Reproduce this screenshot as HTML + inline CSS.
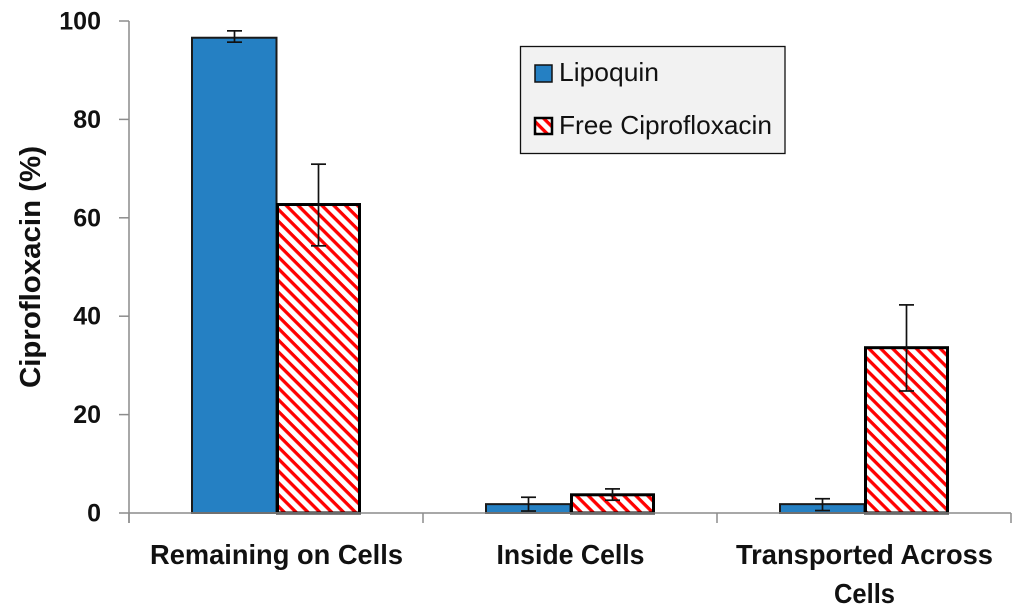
<!DOCTYPE html>
<html>
<head>
<meta charset="utf-8">
<title>Ciprofloxacin distribution chart</title>
<style>
html,body{margin:0;padding:0;background:#fff;width:1024px;height:615px;overflow:hidden}
svg{display:block}
text{font-family:"Liberation Sans",sans-serif;fill:#111}
</style>
</head>
<body>
<svg id="chart" xmlns="http://www.w3.org/2000/svg" width="1024" height="615" viewBox="0 0 1024 615">
  <defs>
    <pattern id="hatch" patternUnits="userSpaceOnUse" width="8.4" height="8.4" patternTransform="rotate(45)">
      <rect width="8.4" height="8.4" fill="#fff"/>
      <rect width="8.4" height="3.3" fill="#ff0000"/>
    </pattern>
  </defs>
  <text transform="translate(40,388) rotate(-90)" font-size="29" font-weight="bold" textLength="242" lengthAdjust="spacingAndGlyphs">Ciprofloxacin (%)</text>
  <g id="plot"></g>
  <g>
    <rect x="520.5" y="46.5" width="264.5" height="107" fill="#f2f2f2" stroke="#111" stroke-width="1.3"/>
    <rect x="535" y="65" width="17" height="17" fill="#2580c3" stroke="#111" stroke-width="1.5"/>
    <text x="559" y="81" font-size="26" textLength="100" lengthAdjust="spacingAndGlyphs">Lipoquin</text>
    <rect x="535" y="118" width="17" height="16" fill="url(#hatch)" stroke="#000" stroke-width="2.5"/>
    <text x="559" y="134" font-size="26" textLength="213" lengthAdjust="spacingAndGlyphs">Free Ciprofloxacin</text>
  </g>
</svg>
<script>
const categoryLines = [["Remaining on Cells"], ["Inside Cells"], ["Transported Across", "Cells"]];
const yTicks = [0, 20, 40, 60, 80, 100];
const lipoquinValues = [96.6, 1.8, 1.8];
const lipoquinErrLow = [95.7, 0.4, 0.5];
const lipoquinErrHigh = [98.0, 3.2, 2.9];
const freeCiproValues = [62.7, 3.7, 33.6];
const freeCiproErrLow = [54.3, 2.6, 24.8];
const freeCiproErrHigh = [70.9, 4.9, 42.3];

const NS = "http://www.w3.org/2000/svg";
const plot = document.getElementById("plot");
const X0 = 129, X1 = 1011, Y0 = 513, Y100 = 21, BLUE_W = 84.5, RED_W = 82, CAP = 7.5;
const yScale = v => Y0 + (Y100 - Y0) * v / 100;
const bandW = () => (X1 - X0) / categoryLines.length;
const bandCenter = i => X0 + bandW() * (i + 0.5) + 0.5;
const labelFit = { "Remaining on Cells": 253, "Inside Cells": 148, "Transported Across": 257, "Cells": 61 };

function make(tag, attrs, parent) {
  const el = document.createElementNS(NS, tag);
  for (const k in attrs) el.setAttribute(k, attrs[k]);
  (parent || plot).appendChild(el);
  return el;
}

function drawBar(value, left, width, fill, stroke, sw) {
  const top = yScale(value);
  return make("rect", { x: left, y: top, width: width, height: Y0 - top, fill: fill, stroke: stroke, "stroke-width": sw });
}

function drawError(cx, low, high) {
  const g = make("g", { stroke: "#111", "stroke-width": 1.7, fill: "none" });
  const yl = yScale(low), yh = yScale(high);
  make("line", { x1: cx, x2: cx, y1: yl, y2: yh }, g);
  make("line", { x1: cx - CAP, x2: cx + CAP, y1: yl, y2: yl }, g);
  make("line", { x1: cx - CAP, x2: cx + CAP, y1: yh, y2: yh }, g);
  return g;
}

// bars first, so the axis line and whiskers sit on top
categoryLines.forEach((lines, i) => {
  const c = bandCenter(i);
  const blue = drawBar(lipoquinValues[i], c - BLUE_W, BLUE_W, "#2580c3", "#1a1a1a", 2);
  
  
  const red = drawBar(freeCiproValues[i], c + 1, RED_W, "url(#hatch)", "#000", 3);
  
  
});

// axes
const yAxis = make("line", { x1: X0, x2: X0, y1: Y100, y2: Y0 + 10, stroke: "#8c8c8c", "stroke-width": 1.5 });


const xAxis = make("line", { x1: X0 - 10, x2: X1, y1: Y0, y2: Y0, stroke: "#8c8c8c", "stroke-width": 1.5 });



yTicks.forEach(t => {
  const y = yScale(t);
  if (t !== 0) {
    const tick = make("line", { x1: X0 - 10, x2: X0, y1: y, y2: y, stroke: "#8c8c8c", "stroke-width": 1.5 });
    
    
  }
  const label = make("text", { x: 101, y: y + 8.5, "font-size": 25, "font-weight": "bold", "text-anchor": "end" });
  label.textContent = String(t);
  
  
});

for (let i = 0; i <= categoryLines.length; i++) {
  const x = X0 + bandW() * i;
  const tick = make("line", { x1: x, x2: x, y1: Y0, y2: Y0 + 10, stroke: "#8c8c8c", "stroke-width": 1.5 });
  
  
}

// category labels
categoryLines.forEach((lines, i) => {
  lines.forEach((line, j) => {
    const label = make("text", {
      x: bandCenter(i),
      y: 564 + j * 39,
      "font-size": 28,
      "font-weight": "bold",
      "text-anchor": "middle",
      textLength: labelFit[line] || 250,
      lengthAdjust: "spacingAndGlyphs"
    });
    label.textContent = line;
    
    
  });
});

// error bars on top
categoryLines.forEach((lines, i) => {
  const c = bandCenter(i);
  const e1 = drawError(c - 42, lipoquinErrLow[i], lipoquinErrHigh[i]);
  
  
  const e2 = drawError(c + 42, freeCiproErrLow[i], freeCiproErrHigh[i]);
  
  
});
</script>
</body>
</html>
